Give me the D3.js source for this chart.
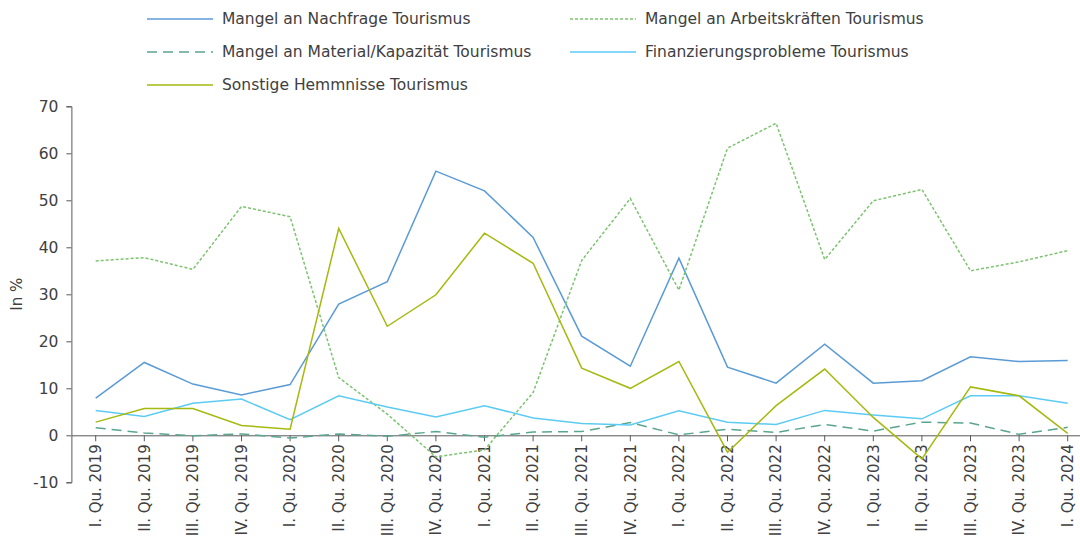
<!DOCTYPE html>
<html>
<head>
<meta charset="utf-8">
<script src="https://cdn.jsdelivr.net/npm/d3@7"></script>
<style>
  body { margin: 0; background: #fff; }
  svg text { font-family: "DejaVu Sans", sans-serif; fill: #404040; }
</style>
</head>
<body>
<script>
const quarters = ['I. Qu. 2019','II. Qu. 2019','III. Qu. 2019','IV. Qu. 2019',
  'I. Qu. 2020','II. Qu. 2020','III. Qu. 2020','IV. Qu. 2020',
  'I. Qu. 2021','II. Qu. 2021','III. Qu. 2021','IV. Qu. 2021',
  'I. Qu. 2022','II. Qu. 2022','III. Qu. 2022','IV. Qu. 2022',
  'I. Qu. 2023','II. Qu. 2023','III. Qu. 2023','IV. Qu. 2023',
  'I. Qu. 2024'];

const nachfrage = [7.9, 15.5, 10.9, 8.6, 10.8, 27.9, 32.7, 56.2, 52.0, 42.1, 21.1,
  14.7, 37.7, 14.5, 11.1, 19.4, 11.1, 11.6, 16.7, 15.7, 15.9];
const arbeitskraefte = [37.1, 37.8, 35.3, 48.7, 46.5, 12.3, 4.5, -4.6, -3.1, 9.1, 37.2,
  50.4, 30.9, 61.1, 66.4, 37.4, 49.9, 52.3, 35.0, 36.9, 39.3];
const material = [1.6, 0.5, -0.1, 0.3, -0.6, 0.3, -0.2, 0.8, -0.4, 0.7, 0.8,
  2.7, 0.1, 1.3, 0.6, 2.3, 0.9, 2.8, 2.6, 0.2, 1.7];
const finanzierung = [5.3, 4.0, 6.8, 7.7, 3.3, 8.4, 6.0, 3.9, 6.3, 3.7, 2.5,
  2.2, 5.2, 2.8, 2.3, 5.3, 4.3, 3.5, 8.4, 8.4, 6.8];
const sonstige = [2.8, 5.7, 5.7, 2.1, 1.3, 44.0, 23.2, 29.9, 43.0, 36.6, 14.3,
  10.0, 15.7, -3.6, 6.3, 14.1, 3.8, -5.0, 10.3, 8.4, 0.4];

const yTicks = [-10, 0, 10, 20, 30, 40, 50, 60, 70];

const series = [
  { name: 'Mangel an Nachfrage Tourismus', values: nachfrage, color: '#5b9bd5', dash: null, col: 0, row: 0 },
  { name: 'Mangel an Arbeitskräften Tourismus', values: arbeitskraefte, color: '#7cc36f', dash: '3,2', col: 1, row: 0 },
  { name: 'Mangel an Material/Kapazität Tourismus', values: material, color: '#5aa58f', dash: '10,6', col: 0, row: 1 },
  { name: 'Finanzierungsprobleme Tourismus', values: finanzierung, color: '#5ccbf4', dash: null, col: 1, row: 1 },
  { name: 'Sonstige Hemmnisse Tourismus', values: sonstige, color: '#a5b90e', dash: null, col: 0, row: 2 }
];

const width = 1080, height = 539;
const axisX = 71.4;

const svg = d3.select('body').append('svg')
  .attr('width', width)
  .attr('height', height);

const x = d3.scaleBand()
  .domain(quarters)
  .range([axisX, axisX + 48.6 * quarters.length])
  .padding(0);

const y = d3.scaleLinear()
  .domain([-10, 70])
  .range([482.3, 106.3]);

// y axis
const yAxis = svg.append('g')
  .attr('transform', 'translate(' + axisX + ',0)')
  .call(d3.axisLeft(y).tickValues(yTicks).tickFormat(function(d) { return String(d); })
    .tickSize(5).tickPadding(8));
yAxis.select('.domain').attr('stroke', '#595959');
yAxis.selectAll('.tick line').attr('stroke', '#595959');
yAxis.selectAll('.tick text')
  .style('font-size', '15.5px')
  .attr('fill', '#404040');

svg.append('text')
  .attr('transform', 'translate(22,' + y(30) + ') rotate(-90)')
  .attr('text-anchor', 'middle')
  .style('font-size', '15px')
  .text('In %');

// x axis at zero
const xAxis = svg.append('g')
  .attr('transform', 'translate(0,' + y(0) + ')')
  .call(d3.axisBottom(x).tickSize(6).tickSizeOuter(0));
xAxis.select('.domain').attr('stroke', '#595959');
xAxis.selectAll('.tick line').attr('stroke', '#595959');
xAxis.selectAll('.tick text')
  .attr('transform', 'rotate(-90)')
  .attr('x', -9)
  .attr('y', 0)
  .attr('dy', '0.35em')
  .style('text-anchor', 'end')
  .style('font-size', '15px')
  .attr('fill', '#404040');

const line = d3.line()
  .x(function(d, i) { return x(quarters[i]) + x.bandwidth() / 2; })
  .y(function(d) { return y(d); });

svg.selectAll('.series')
  .data(series)
  .enter().append('path')
  .attr('class', 'series')
  .attr('d', function(d) { return line(d.values); })
  .attr('fill', 'none')
  .attr('stroke', function(d) { return d.color; })
  .attr('stroke-width', 1.5)
  .attr('stroke-dasharray', function(d) { return d.dash; });

// legend
const legendCols = [147, 570];
const legendRows = [19, 52, 85];
const legend = svg.selectAll('.legend')
  .data(series)
  .enter().append('g')
  .attr('class', 'legend')
  .attr('transform', function(d) {
    return 'translate(' + legendCols[d.col] + ',' + legendRows[d.row] + ')';
  });

legend.append('line')
  .attr('x1', 0).attr('x2', 66)
  .attr('y1', 0).attr('y2', 0)
  .attr('stroke', function(d) { return d.color; })
  .attr('stroke-width', 1.5)
  .attr('stroke-dasharray', function(d) { return d.dash; });

legend.append('text')
  .attr('x', 75)
  .attr('y', 0)
  .attr('dy', '0.35em')
  .style('font-size', '15.5px')
  .text(function(d) { return d.name; });
</script>
</body>
</html>
